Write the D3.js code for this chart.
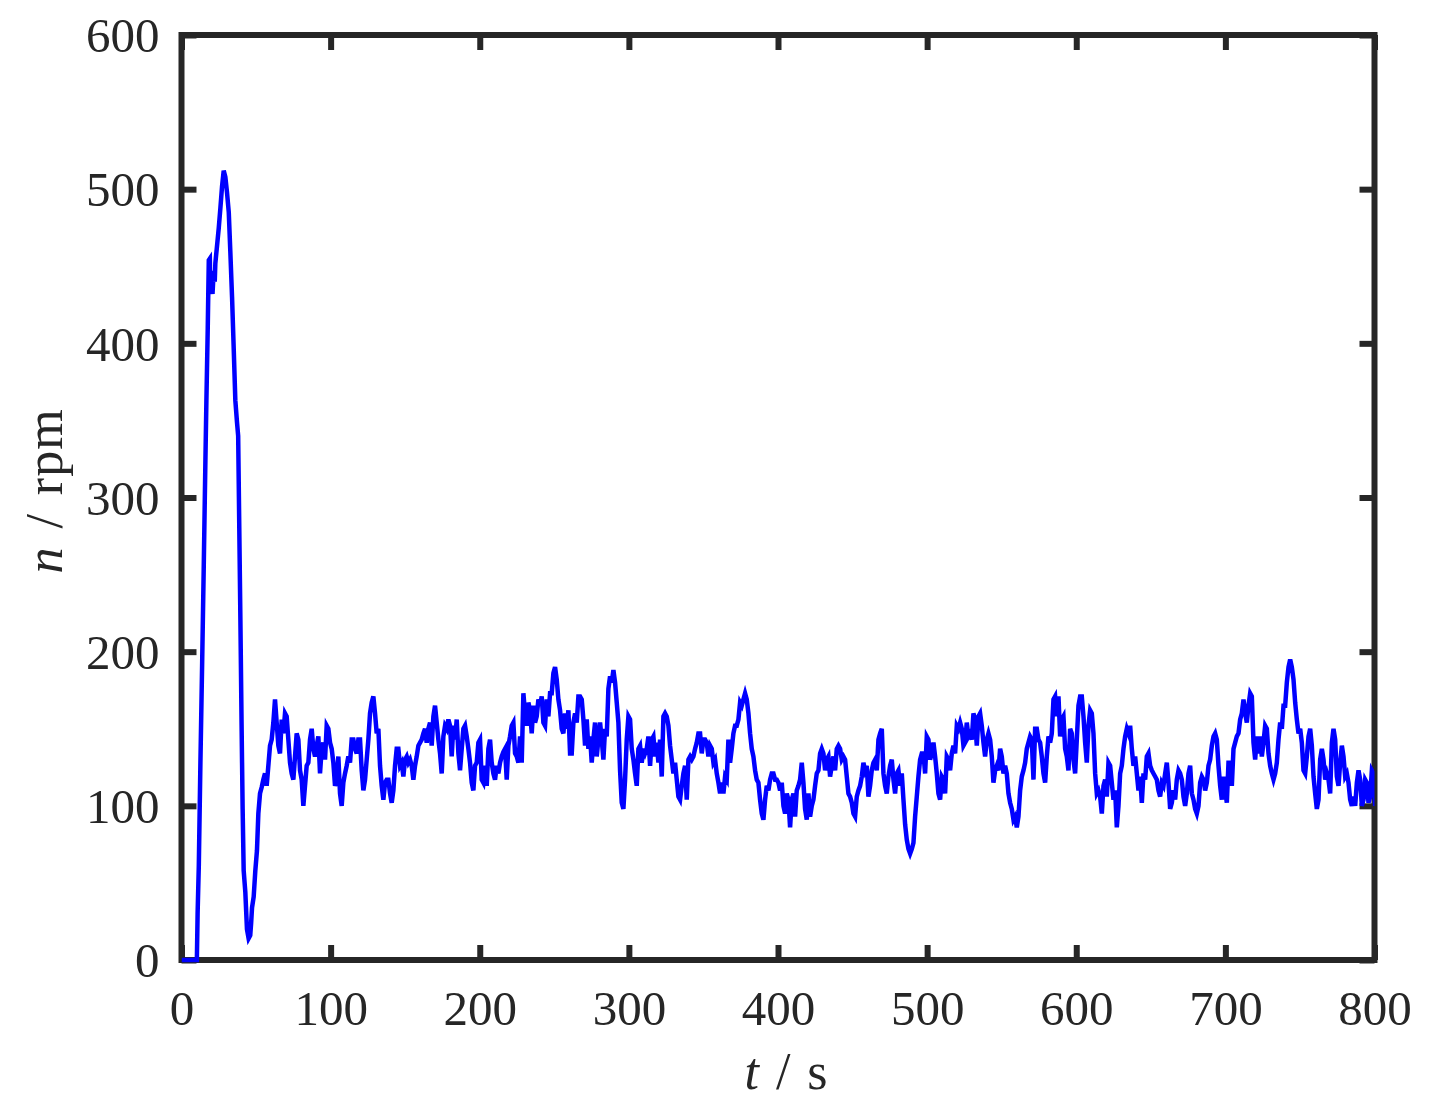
<!DOCTYPE html>
<html>
<head>
<meta charset="utf-8">
<script src="https://cdn.jsdelivr.net/npm/d3@7"></script>
<style>
  html, body { margin: 0; padding: 0; background: #fff; }
  svg { display: block; }
</style>
</head>
<body>
<div id="chart"></div>
<script>
// ---- Data ----
const xTicks = [0, 100, 200, 300, 400, 500, 600, 700, 800];
const yTicks = [0, 100, 200, 300, 400, 500, 600];

// start-up transient: explicit (t, n) pairs
const startTime  = [0, 10.3, 10.8, 11.6, 12.7, 13.8, 14.9, 16.0, 16.7, 17.6, 18.3, 19.0, 19.4, 20.2, 20.8, 21.6, 22.3, 22.7, 23.9, 25.0, 26.1, 27.2, 28.3, 29.4, 30.5, 31.7, 32.8, 33.9, 35.0, 36.1, 37.2, 38.0, 38.6, 39.5, 40.3, 41.0, 41.7, 42.8, 43.9, 45.0, 46.1, 46.7, 47.3, 48.4, 49.5, 50.6];
const startSpeed = [0, 0, 30, 61, 129, 190, 254, 322, 363, 410, 454, 455, 432, 440, 432, 447, 440, 452, 464, 475, 488, 502, 512, 508, 498, 485, 458, 430, 397, 363, 349, 340, 292, 220, 152, 98, 58, 44, 20, 14, 16, 24, 34, 41, 58, 71];

// steady running, uniformly sampled
const sampleStart = 51.53;   // s
const sampleStep  = 1.1178;  // s
const sampleSpeed = [
  95,108,112,117,121,113,126,139,143,154,
  169,154,139,134,156,147,160,158,143,128,
  121,117,132,147,143,123,117,100,113,126,
  128,143,150,137,132,139,145,121,137,141,
  130,152,150,141,137,128,113,117,132,108,
  100,115,121,126,132,128,143,143,137,134,
  143,143,123,110,117,130,143,160,167,171,
  160,147,150,126,113,104,115,117,117,108,
  102,110,126,137,137,126,128,119,130,132,
  128,130,126,117,126,132,139,141,143,147,
  150,141,150,154,139,158,165,154,143,134,
  121,145,152,150,156,152,132,152,143,156,
  134,123,137,150,152,145,137,128,115,110,
  126,128,141,143,117,115,126,113,137,143,
  128,121,117,126,121,
  128,132,135,137,117,139,145,152,154,134,
  132,128,145,128,173,160,152,167,162,147,
  165,154,158,169,165,171,154,152,169,158,
  173,173,186,190,182,169,162,150,147,160,
  150,162,134,134,154,160,154,171,171,169,
  156,139,156,137,145,128,143,154,132,143,
  154,143,130,150,145,176,184,180,188,180,
  167,154,123,102,98,117,143,158,156,137,
  130,121,113,137,139,128,137,134,137,145,
  126,143,145,132,141,128,143,119,158,160,
  158,152,139,130,121,128,117,106,104,113,
  121,126,104,130,132,130,132,137,141,147,
  147,134,143,143,141,132,139,137,128,130,
  121,115,108,115,108,119,117,143,
  128,137,147,152,152,156,167,165,169,173,
  169,160,147,137,132,123,117,115,104,95,
  91,104,113,110,117,121,121,117,117,115,
  110,115,100,95,108,104,86,104,108,93,
  110,113,117,128,115,98,91,108,93,100,
  104,113,121,123,134,137,134,123,130,132,
  119,126,132,123,137,139,137,130,132,130,
  119,108,106,102,95,93,106,110,113,119,
  128,123,126,106,113,123,128,130,123,143,
  147,150,121,113,108,119,126,130,117,108,
  121,123,113,121,104,88,78,72,69,72,
  76,93,106,119,130,134,134,121,145,143,
  130,134,141,132,121,108,104,119,117,108,
  132,130,123,134,139,134,152,150,
  154,150,139,141,154,145,147,143,160,156,
  139,158,160,152,141,132,143,147,143,132,
  115,123,126,123,137,132,121,126,121,108,
  102,98,91,93,86,93,110,119,123,128,
  137,141,145,143,117,150,150,143,141,132,
  121,115,132,145,141,147,169,171,158,171,
  145,156,158,137,132,123,150,147,130,121,
  143,165,171,171,158,141,128,152,162,160,
  147,121,108,110,106,95,113,117,106,128,
  126,115,104,110,86,100,121,126,137,145,
  150,147,152,137,126,132,121,110,119,102,
  121,117,132,134,126,123,121,119,117,110,
  106,115,113,121,128,115,98,102,110,104,
  117,123,121,117,106,100,108,121,
  126,108,104,98,95,100,115,119,117,110,
  115,126,130,139,145,147,143,126,113,104,
  119,110,102,128,128,113,137,141,145,147,
  156,160,169,160,154,165,173,171,141,130,
  145,134,145,132,141,152,150,134,126,121,
  117,121,128,143,154,150,165,165,180,190,
  195,190,182,167,156,147,150,141,123,121,
  132,145,150,139,119,108,98,104,130,137,
  130,117,121,117,108,141,150,143,119,113,
  128,139,132,119,121,115,104,100,106,100,
  115,123,117,100,104,117,115,102,106,123,
  121,100,104
];

// ---- Layout ----
const W = 1433, H = 1115;
const pL = 181.5, pT = 35, pR = 1374.5, pB = 960;
const ink = "#262626";
const font = "'Liberation Serif', 'Times New Roman', serif";
const fs = 49;
const fsTitle = 52;

const svg = d3.select("#chart").append("svg")
  .attr("width", W).attr("height", H)
  .style("font-family", font);

const x = d3.scaleLinear().domain([0, 800]).range([pL, pR]);
const y = d3.scaleLinear().domain([0, 600]).range([pB, pT]);

const points = [];
startTime.forEach((t, i) => points.push([t, startSpeed[i]]));
sampleSpeed.forEach((v, i) => points.push([sampleStart + i * sampleStep, v]));

svg.append("defs").append("clipPath").attr("id", "plotclip")
  .append("rect").attr("x", pL).attr("y", pT - 5)
  .attr("width", pR - pL).attr("height", pB - pT + 10);

// Axes (ticks inward, on all four sides)
const tickLen = 15;
const axBottom = d3.axisBottom(x).tickValues(xTicks).tickSize(-tickLen).tickPadding(30).tickFormat(d3.format("d"));
const axTop = d3.axisTop(x).tickValues(xTicks).tickSize(-tickLen).tickFormat("");
const axLeft = d3.axisLeft(y).tickValues(yTicks).tickSize(-tickLen).tickPadding(22).tickFormat(d3.format("d"));
const axRight = d3.axisRight(y).tickValues(yTicks).tickSize(-tickLen).tickFormat("");

function styleAxis(g) {
  g.select(".domain").remove();
  g.selectAll(".tick line").attr("stroke", ink).attr("stroke-width", 6);
  g.selectAll(".tick text").attr("fill", ink)
    .style("font-size", fs + "px").style("font-family", font);
}

svg.append("g").attr("transform", `translate(0,${pB})`).call(axBottom).call(styleAxis)
  .selectAll(".tick text").attr("dy", "0.71em");
svg.append("g").attr("transform", `translate(0,${pT})`).call(axTop).call(styleAxis);
svg.append("g").attr("transform", `translate(${pL},0)`).call(axLeft).call(styleAxis)
  .selectAll(".tick text").attr("dy", "0.34em");
svg.append("g").attr("transform", `translate(${pR},0)`).call(axRight).call(styleAxis);

// Frame
svg.append("rect")
  .attr("x", pL).attr("y", pT)
  .attr("width", pR - pL).attr("height", pB - pT)
  .attr("fill", "none").attr("stroke", ink).attr("stroke-width", 6)
  .attr("stroke-linejoin", "miter");

// Data line (drawn over the frame, as in the reference)
const line = d3.line().x(d => x(d[0])).y(d => y(d[1]));
svg.append("path")
  .datum(points)
  .attr("clip-path", "url(#plotclip)")
  .attr("fill", "none")
  .attr("stroke", "#0000ff")
  .attr("stroke-width", 4.5)
  .attr("stroke-linejoin", "miter")
  .attr("d", line);

// Axis titles
const xt = svg.append("text")
  .attr("x", (pL + pR) / 2 + 8).attr("y", 1089)
  .attr("text-anchor", "middle").attr("fill", ink)
  .attr("word-spacing", 4)
  .style("font-size", fsTitle + "px");
xt.append("tspan").attr("font-style", "italic").text("t");
xt.append("tspan").text(" / s");

const yt = svg.append("text")
  .attr("transform", `translate(62,${491}) rotate(-90)`)
  .attr("text-anchor", "middle").attr("fill", ink)
  .attr("word-spacing", 4)
  .attr("letter-spacing", 1)
  .style("font-size", fsTitle + "px");
yt.append("tspan").attr("font-style", "italic").text("n");
yt.append("tspan").text(" / rpm");
</script>
</body>
</html>
